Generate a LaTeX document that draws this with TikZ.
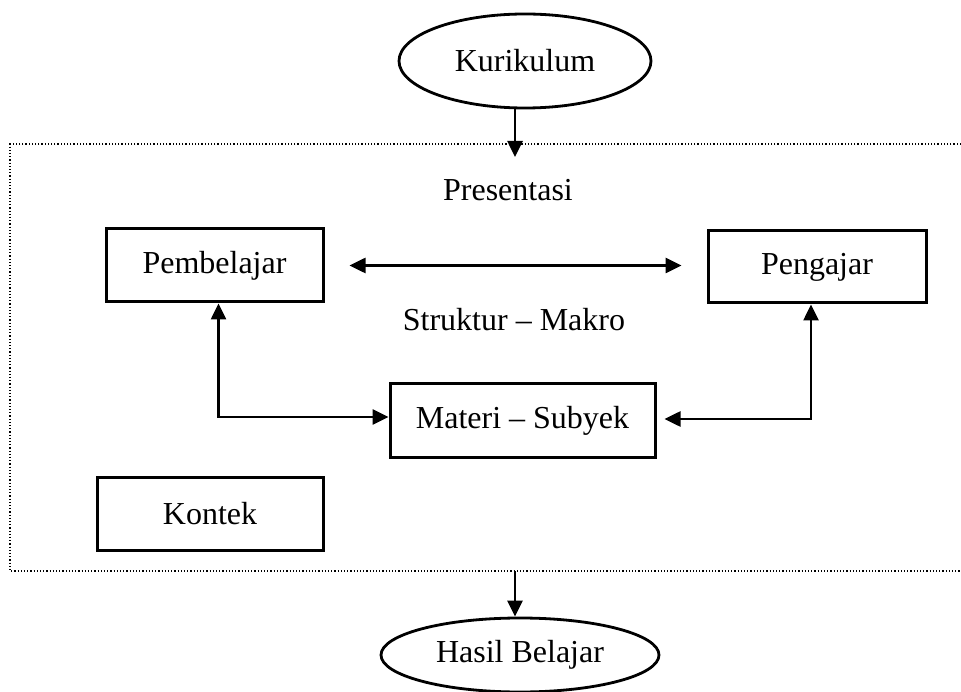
\documentclass[tikz,border=0pt]{standalone}
\usepackage{fontspec}
\setmainfont{Liberation Serif}
\usetikzlibrary{shapes.geometric,arrows.meta,calc}
\begin{document}
\begin{tikzpicture}[x=1pt,y=-1pt,
  font=\fontsize{32}{36}\selectfont,
  boxnode/.style={draw,line width=3pt,rectangle,inner sep=0pt},
  ovalnode/.style={draw,line width=2.8pt,ellipse,inner sep=0pt},
  conn/.style={line width=2.6pt,-{Triangle[length=16pt,width=15pt]}},
  dconn/.style={line width=2.6pt,{Triangle[length=16pt,width=15pt]}-{Triangle[length=16pt,width=15pt]}},
  frameline/.style={line width=1.2pt,dotted}]
\useasboundingbox (0,0) rectangle (961,692);
% frame
\draw[frameline] (961,144) -- (10,144) -- (10,571) -- (961,571);
% nodes
\node[ovalnode,minimum width=252pt,minimum height=94pt] (kur) at (525,61) {Kurikulum};
\node[ovalnode,minimum width=278pt,minimum height=74pt] (has) at (520,655) {Hasil Belajar};
\node (pres) at (508,190) {Presentasi};
\node (struk) at (514,320) {Struktur -- Makro};
\node[boxnode,minimum width=217pt,minimum height=73pt] (pemb) at (214.5,265.5) {Pembelajar};
\node[boxnode,minimum width=218pt,minimum height=72pt] (peng) at (817,267) {Pengajar};
\node[boxnode,minimum width=265pt,minimum height=73pt] (mat) at (522.5,420.5) {Materi -- Subyek};
\node[boxnode,minimum width=226pt,minimum height=73pt] (kon) at (210,513.5) {Kontek};
\coordinate (ktip) at (515,157);
\coordinate (bstart) at (515,571);
% connectors
\draw[conn] (kur.south -| ktip) -- (ktip);
\draw[conn] (bstart) -- (has.north -| bstart);
\draw[dconn,shorten <=25pt,shorten >=25pt] (pemb.east) -- (pemb.east -| peng.west);
\draw[dconn] ([xshift=4pt]pemb.south) |- ([yshift=3.5pt]mat.west);
\draw[dconn,shorten >=8pt] ([xshift=-6pt]peng.south) |- ([yshift=1.5pt]mat.east);
\end{tikzpicture}
\end{document}
